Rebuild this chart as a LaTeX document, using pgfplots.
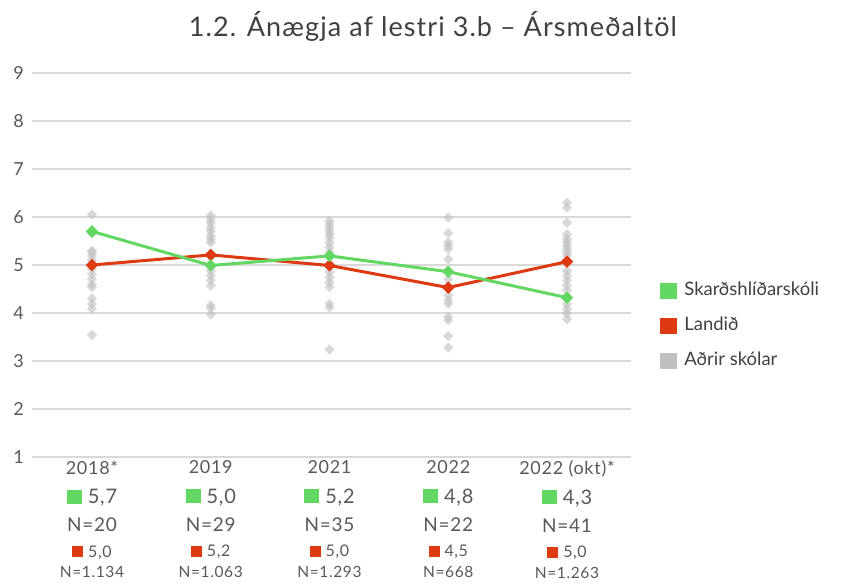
\documentclass[border=0pt]{standalone}
\usepackage{fontspec}
\setmainfont{Lato}
\usepackage{pgfplots}
\pgfplotsset{compat=1.18}
\definecolor{sgreen}{HTML}{62D862}
\definecolor{sred}{HTML}{DD3A12}
\definecolor{sgray}{HTML}{BFBFBF}
\definecolor{txt}{HTML}{595959}
\definecolor{ttl}{HTML}{404040}
\definecolor{gridc}{HTML}{D9D9D9}

\newcommand{\lab}[5]{%
 {\renewcommand{\arraystretch}{0}%
 \begin{tabular}{@{}c@{}}
 \rule[-4pt]{0pt}{17pt}\fontsize{18}{18}\selectfont\addfontfeature{LetterSpace=4} #1\\
 \rule[-4pt]{0pt}{29.5pt}\fontsize{20}{20}\selectfont\addfontfeature{LetterSpace=4}\textcolor{sgreen}{\rule{15pt}{14pt}}\hspace{6pt}#2\\
 \rule[-4pt]{0pt}{28pt}\fontsize{19}{19}\selectfont\addfontfeature{LetterSpace=4}N=#3\\
 \rule[-4pt]{0pt}{25.5pt}\fontsize{16}{16}\selectfont\addfontfeature{LetterSpace=4}\textcolor{sred}{\rule{11pt}{11pt}}\hspace{5pt}#4\\
 \rule[-4pt]{0pt}{20.5pt}\fontsize{15.5}{15.5}\selectfont\addfontfeature{LetterSpace=4}N=#5
 \end{tabular}}}

\pgfplotstableread{
x y
0 6.05
0 5.65
0 5.30
0 5.26
0 5.19
0 5.10
0 5.00
0 4.92
0 4.81
0 4.71
0 4.60
0 4.54
0 4.30
0 4.19
0 4.09
0 3.54
1 6.03
1 5.95
1 5.88
1 5.78
1 5.71
1 5.61
1 5.54
1 5.47
1 5.20
1 5.00
1 4.88
1 4.78
1 4.68
1 4.57
1 4.16
1 4.10
1 3.97
2 5.92
2 5.85
2 5.78
2 5.71
2 5.64
2 5.57
2 5.47
2 5.37
2 5.26
2 5.20
2 5.00
2 4.85
2 4.74
2 4.64
2 4.54
2 4.19
2 4.12
2 3.24
3 5.99
3 5.66
3 5.47
3 5.40
3 5.33
3 5.12
3 4.88
3 4.71
3 4.53
3 4.37
3 4.26
3 4.19
3 3.92
3 3.85
3 3.52
3 3.28
4 6.30
4 6.19
4 5.88
4 5.64
4 5.54
4 5.47
4 5.40
4 5.33
4 5.26
4 5.19
4 5.07
4 4.88
4 4.78
4 4.68
4 4.57
4 4.47
4 4.32
4 4.19
4 4.09
4 3.99
4 3.87
}\others

\begin{document}
\begin{tikzpicture}
\useasboundingbox (0,0) rectangle (853pt,582pt);
\node[font=\fontsize{27}{27}\selectfont\addfontfeature{LetterSpace=4}, text=ttl] at (433pt,556pt) {1.2. Ánægja af lestri 3.b – Ársmeðaltöl};
\begin{axis}[
  at={(32pt,125pt)}, anchor=south west,
  scale only axis, width=599pt, height=384pt,
  xmin=-0.505, xmax=4.539, ymin=1, ymax=9,
  ytick={1,...,9},
  xtick={0,1,2,3,4},
  xticklabels={
    {\lab{2018*}{5,7}{20}{5,0}{1.134}},
    {\lab{2019}{5,0}{29}{5,2}{1.063}},
    {\lab{2021}{5,2}{35}{5,0}{1.293}},
    {\lab{2022}{4,8}{22}{4,5}{668}},
    {\lab{2022 (okt)*}{4,3}{41}{5,0}{1.263}}},
  xticklabel style={inner sep=0pt, anchor=north, yshift=-3.5pt, text=txt},
  yticklabel style={inner sep=0pt, anchor=east, xshift=-8pt, text=txt, font=\fontsize{18}{18}\selectfont},
  /pgf/number format/assume math mode=true,
  major tick length=0pt,
  axis line style={draw=none},
  ymajorgrids, grid style={gridc, line width=1.5pt},
  clip=false,
  legend cell align=left,
  legend style={at={(1.048,0.455)}, anchor=north west, draw=none, fill=none,
    inner sep=0pt, row sep=18pt, font=\fontsize{18.5}{18.5}\selectfont,
    text=ttl, nodes={inner sep=0pt, text height=13pt, text depth=4pt}},
]
\addlegendimage{legend image code/.code={\fill[sgreen] (0pt,-7.5pt) rectangle (16pt,7.5pt);}}
\addlegendentry{\hspace{8pt}Skarðshlíðarskóli}
\addlegendimage{legend image code/.code={\fill[sred] (0pt,-7.5pt) rectangle (16pt,7.5pt);}}
\addlegendentry{\hspace{8pt}Landið}
\addlegendimage{legend image code/.code={\fill[sgray] (0pt,-7.5pt) rectangle (16pt,7.5pt);}}
\addlegendentry{\hspace{8pt}Aðrir skólar}

\addplot[forget plot, only marks, color=sgray, mark=square*, mark size=3.6pt,
  mark options={rotate=45, fill=sgray, draw opacity=0, fill opacity=0.6}] table[x=x,y=y] {\others};
\addplot[forget plot, sred, line width=3pt, mark=square*, mark size=4.4pt,
  mark options={rotate=45, fill=sred, draw opacity=0}] coordinates {(0,5.00) (1,5.21) (2,4.99) (3,4.53) (4,5.07)};
\addplot[forget plot, sgreen, line width=3pt, mark=square*, mark size=4.4pt,
  mark options={rotate=45, fill=sgreen, draw opacity=0}] coordinates {(0,5.70) (1,4.99) (2,5.19) (3,4.86) (4,4.32)};
\end{axis}
\end{tikzpicture}
\end{document}
